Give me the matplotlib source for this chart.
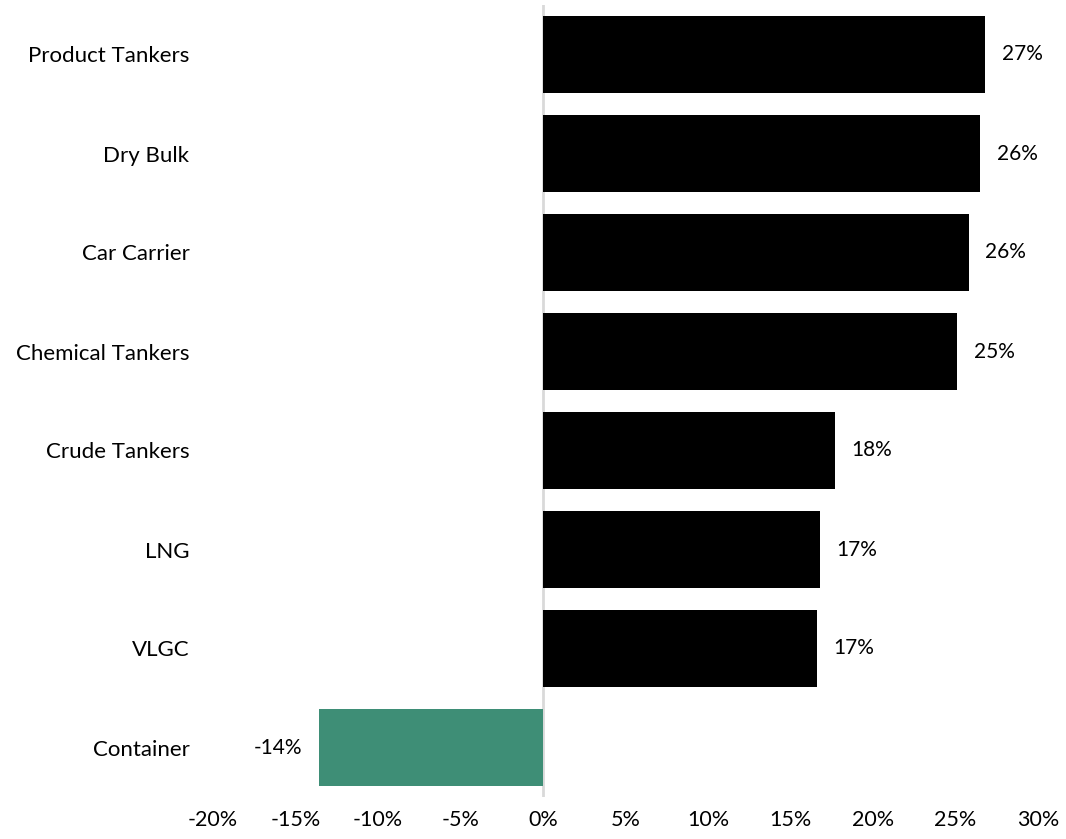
import matplotlib.pyplot as plt
import numpy as np

categories = ['Product Tankers', 'Dry Bulk', 'Car Carrier', 'Chemical Tankers',
              'Crude Tankers', 'LNG', 'VLGC', 'Container']
values = [26.8, 26.5, 25.8, 25.1, 17.7, 16.8, 16.6, -13.6]
labels = ['27%', '26%', '26%', '25%', '18%', '17%', '17%', '-14%']
xticks = [-20, -15, -10, -5, 0, 5, 10, 15, 20, 25, 30]

plt.rcParams['font.family'] = ['Lato', 'DejaVu Sans']

fig = plt.figure(figsize=(10.66, 8.39), dpi=100)
ax = fig.add_axes([213 / 1066, 1 - 797 / 839, 825 / 1066, 792 / 839])

y = np.arange(len(categories))
colors = ['#000000' if v >= 0 else '#3E8E76' for v in values]
ax.barh(y, values, height=0.77, color=colors, zorder=2)

# value labels just past the end of each bar
for yi, v, lab in zip(y, values, labels):
    if v >= 0:
        ax.text(v + 1.0, yi, lab, ha='left', va='center', fontsize=15)
    else:
        ax.text(v - 1.0, yi, lab, ha='right', va='center', fontsize=15)

ax.axvline(0, color='#D9D9D9', linewidth=2, zorder=1)

ax.set_xlim(-20, 30)
ax.set_ylim(len(categories) - 0.5, -0.5)
ax.set_xticks(xticks)
ax.set_xticklabels([f'{t}%' for t in xticks], fontsize=15.5)
ax.set_yticks(y)
ax.set_yticklabels(categories, fontsize=16)
ax.tick_params(axis='both', length=0)
ax.tick_params(axis='y', pad=17)
ax.tick_params(axis='x', pad=9)
for s in ax.spines.values():
    s.set_visible(False)

fig.savefig('out.png', dpi=100)
